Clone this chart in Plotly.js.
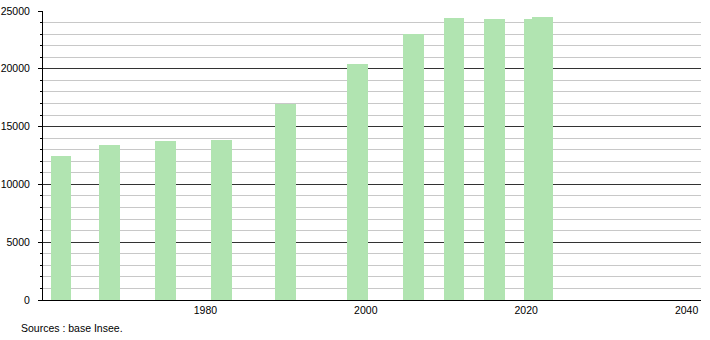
<!DOCTYPE html>
<html>
<head>
<meta charset="utf-8">
<script src="https://cdn.plot.ly/plotly-3.0.1.min.js"></script>
<style>html,body{margin:0;padding:0;background:#fff;}#chart{width:710px;height:340px;}</style>
</head>
<body>
<div id="chart"></div>
<script>
const years = [1962, 1968, 1975, 1982, 1990, 1999, 2006, 2011, 2016, 2021, 2022];
const population = [12470, 13390, 13740, 13830, 16960, 20390, 23040, 24370, 24280, 24280, 24450];
const xTickVals = [1980, 2000, 2020, 2040];
const xTickText = ['1980', '2000', '2020', '2040'];
const sourceText = 'Sources : base Insee.';

const trace = {
  type: 'bar',
  x: years,
  y: population,
  width: 2.6,
  marker: {color: '#b1e4b1', line: {width: 0}},
  hoverinfo: 'x+y'
};

const layout = {
  width: 710, height: 340,
  margin: {l: 43.3, r: 9.3, t: 10.7, b: 40},
  paper_bgcolor: '#fff', plot_bgcolor: '#fff',
  showlegend: false,
  bargap: 0,
  font: {family: 'Liberation Sans, Arial, sans-serif', size: 10.5, color: '#000'},
  xaxis: {
    range: [1959.75, 2041.8],
    tickvals: xTickVals, ticktext: xTickText,
    showgrid: false, zeroline: false,
    showline: true, linecolor: '#000', linewidth: 1,
    ticks: '', ticklabelstandoff: 0,
    fixedrange: true
  },
  yaxis: {
    range: [0, 25000],
    dtick: 5000, tick0: 0,
    tickformat: 'd',
    showgrid: true, gridcolor: '#333', gridwidth: 1,
    zeroline: false,
    showline: true, linecolor: '#000', linewidth: 1,
    ticks: 'outside', ticklen: 4, tickcolor: '#000', tickwidth: 1,
    ticklabelstandoff: 6,
    minor: {dtick: 1000, tick0: 0, showgrid: true, gridcolor: '#c8c8c8', gridwidth: 1, ticks: 'outside', ticklen: 2, tickcolor: '#000'},
    fixedrange: true
  },
  annotations: [{
    text: sourceText, xref: 'paper', yref: 'paper',
    x: -0.037, y: -0.0968, xanchor: 'left', yanchor: 'middle',
    showarrow: false, font: {size: 10.5, color: '#000'}
  }]
};

Plotly.newPlot('chart', [trace], layout, {displayModeBar: false, staticPlot: true});
</script>
</body>
</html>
